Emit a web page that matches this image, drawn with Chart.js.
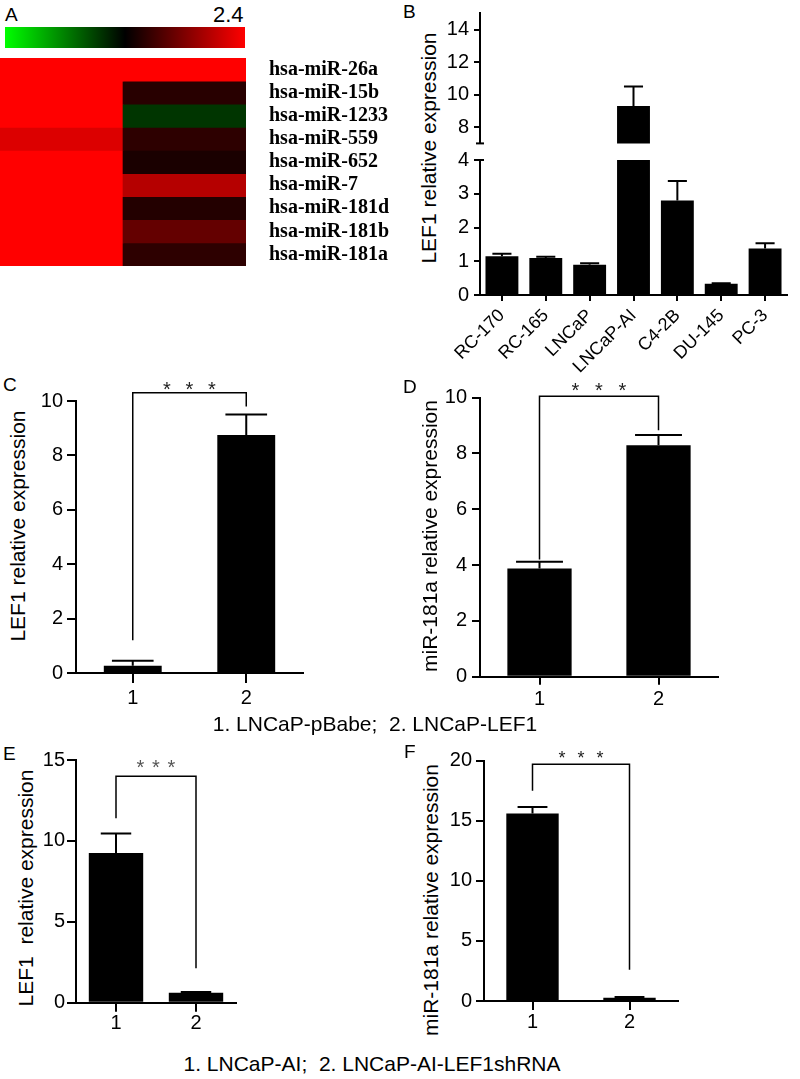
<!DOCTYPE html>
<html><head><meta charset="utf-8">
<script src="https://cdn.jsdelivr.net/npm/chart.js@4.4.0/dist/chart.umd.min.js"></script>
<style>
body{margin:0;background:#fff;width:800px;height:1079px;position:relative;overflow:hidden;font-family:"Liberation Sans",Arial,sans-serif;color:#000}
canvas{position:absolute}
.t{position:absolute;white-space:pre;line-height:1;color:#000}
.rot{transform:translate(-50%,-50%) rotate(-90deg);font-size:21px}
.cap{transform:translateX(-50%);font-size:21px}
.lt{font-size:19px}
#cbar{position:absolute;left:5px;top:27px;width:240px;height:21px;background:linear-gradient(to right,#00ff00 0%,#000 50%,#ff0000 100%)}
</style></head><body>
<div class="t lt" style="left:5px;top:4.7px">A</div>
<div class="t" style="left:213px;top:4px;font-size:22px">2.4</div>
<div id="cbar"></div>
<canvas id="heat"></canvas>
<div class="t lt" style="left:403px;top:2.4px">B</div>
<div class="t rot" style="left:428px;top:148px">LEF1 relative expression</div>
<canvas id="bHigh"></canvas>
<canvas id="bLow"></canvas>
<div class="t lt" style="left:3px;top:374.7px">C</div>
<div class="t rot" style="left:17px;top:526px">LEF1 relative expression</div>
<canvas id="cChart"></canvas>
<div class="t lt" style="left:403px;top:377.4px">D</div>
<div class="t rot" style="left:429px;top:536px">miR-181a relative expression</div>
<canvas id="dChart"></canvas>
<div class="t cap" style="left:375px;top:712.7px">1. LNCaP-pBabe;  2. LNCaP-LEF1</div>
<div class="t lt" style="left:3px;top:743.7px">E</div>
<div class="t rot" style="left:25px;top:888px">LEF1  relative expression</div>
<canvas id="eChart"></canvas>
<div class="t lt" style="left:404px;top:742.4px">F</div>
<div class="t rot" style="left:430px;top:900px">miR-181a relative expression</div>
<canvas id="fChart"></canvas>
<div class="t cap" style="left:372px;top:1052.7px">1. LNCaP-AI;  2. LNCaP-AI-LEF1shRNA</div>
<script>
const FONT = "'Liberation Sans', Arial, sans-serif";

// ---- Panel A: heatmap ----
const heatRows = ['hsa-miR-26a','hsa-miR-15b','hsa-miR-1233','hsa-miR-559','hsa-miR-652','hsa-miR-7','hsa-miR-181d','hsa-miR-181b','hsa-miR-181a'];
const heatSamples = ['S1','S2'];
const heatCol1 = [2.4,2.4,2.4,2.07,2.4,2.4,2.4,2.4,2.4];
const heatCol2 = [2.4,0.38,-0.5,0.42,0.24,1.7,0.33,0.94,0.42];
const heatMax = 2.4;

// ---- Panel B ----
const bLabels = ['RC-170','RC-165','LNCaP','LNCaP-AI','C4-2B','DU-145','PC-3'];
const bValues = [1.15,1.1,0.9,9.3,2.8,0.33,1.38];
const bErrors = [0.07,0.03,0.04,1.2,0.58,0.02,0.15];
const bTicksLow = [0,1,2,3,4];
const bTicksHigh = [8,10,12,14];

// ---- Panel C ----
const cLabels = ['1','2'];
const cValues = [0.27,8.75];
const cErrors = [0.18,0.75];
const cTicks = [0,2,4,6,8,10];
const cBracket = [1.2,10.3,9.8];

// ---- Panel D ----
const dLabels = ['1','2'];
const dValues = [3.88,8.3];
const dErrors = [0.24,0.36];
const dTicks = [0,2,4,6,8,10];
const dBracket = [4.2,10.05,8.83];

// ---- Panel E ----
const eLabels = ['1','2'];
const eValues = [9.25,0.62];
const eErrors = [1.2,0.04];
const eTicks = [0,5,10,15];
const eBracket = [11.4,14.0,2.13];

// ---- Panel F ----
const fLabels = ['1','2'];
const fValues = [15.6,0.28];
const fErrors = [0.55,0.05];
const fTicks = [0,5,10,15,20];
const fBracket = [17.5,19.7,2.6];

const STARS = '*';

Chart.defaults.font.family = FONT;
Chart.defaults.color = '#000';

const errPlugin = {id:'errbars', afterDatasetsDraw(chart, args, o){
  if(!o || !o.errors) return;
  const ctx = chart.ctx, a = chart.chartArea, ys = chart.scales.y;
  const meta = chart.getDatasetMeta(0), vals = chart.data.datasets[0].data;
  ctx.save(); ctx.beginPath(); ctx.rect(a.left, a.top-1, a.right-a.left, a.bottom-a.top+1); ctx.clip();
  ctx.strokeStyle = '#000'; ctx.lineWidth = 2;
  meta.data.forEach((bar,i)=>{
    const y0 = ys.getPixelForValue(vals[i]), y1 = ys.getPixelForValue(vals[i]+o.errors[i]);
    const hw = bar.width*o.cap/2;
    ctx.beginPath(); ctx.moveTo(bar.x,y0); ctx.lineTo(bar.x,y1);
    ctx.moveTo(bar.x-hw,y1); ctx.lineTo(bar.x+hw,y1); ctx.stroke();
  });
  ctx.restore();
}};
const bracketPlugin = {id:'bracket', afterDraw(chart, args, o){
  if(!o || !o.levels) return;
  const ctx = chart.ctx, xs = chart.scales.x, ys = chart.scales.y;
  const xl = xs.getPixelForValue(0), xr = xs.getPixelForValue(1);
  const [lb, top, rb] = o.levels.map(v=>ys.getPixelForValue(v));
  ctx.save(); ctx.strokeStyle = '#000'; ctx.lineWidth = 1.5;
  ctx.beginPath(); ctx.moveTo(xl,lb); ctx.lineTo(xl,top); ctx.lineTo(xr,top); ctx.lineTo(xr,rb); ctx.stroke();
  ctx.fillStyle = o.color || '#000'; ctx.font = (o.size||20)+'px '+FONT;
  ctx.textAlign = 'center'; ctx.textBaseline = 'alphabetic';
  const cx = (xl+xr)/2, cy = top - o.rise + 0.57*(o.size||20);
  for(let k=-1;k<=1;k++) ctx.fillText(STARS, cx + k*o.gap, cy);
  ctx.restore();
}};
const capsPlugin = {id:'axisCaps', afterDraw(chart, args, o){
  if(!o || !o.where) return;
  const ctx = chart.ctx, a = chart.chartArea, y = o.where==='top' ? a.top : a.bottom;
  ctx.save(); ctx.strokeStyle='#000'; ctx.lineWidth=2;
  ctx.beginPath(); ctx.moveTo(a.left-4,y); ctx.lineTo(a.left+4,y); ctx.stroke(); ctx.restore();
}};
Chart.register(errPlugin, bracketPlugin, capsPlugin);

function place(id, c, a){
  const cv = document.getElementById(id);
  cv.width = c[2]-c[0]; cv.height = c[3]-c[1];
  Object.assign(cv.style,{left:c[0]+'px',top:c[1]+'px',width:(c[2]-c[0])+'px',height:(c[3]-c[1])+'px'});
  return {cv, yW:a[0]-c[0], padTop:a[1]-c[1], padRight:c[2]-a[2], xH:c[3]-a[3]};
}

function heatColor(v){
  const t = Math.max(-1, Math.min(1, v/heatMax));
  return t>=0 ? `rgb(${Math.round(255*t)},0,0)` : `rgb(0,${Math.round(-255*t)},0)`;
}

(function(){
  const L = place('heat',[0,58,400,266],[0,58,246,266]);
  new Chart(L.cv,{
    type:'bar',
    data:{labels:heatSamples, datasets:heatRows.map((r,i)=>({label:r, data:heatSamples.map(()=>1),
      backgroundColor:[heatColor(heatCol1[i]), heatColor(heatCol2[i])], borderWidth:0,
      barPercentage:1, categoryPercentage:1}))},
    options:{responsive:false, animation:false, devicePixelRatio:1,
      layout:{padding:{left:0,top:0,right:0,bottom:0}},
      plugins:{legend:{display:false}, tooltip:{enabled:false}},
      scales:{
        x:{display:false, stacked:true},
        y:{display:false, stacked:true, min:0, max:heatRows.length, reverse:true},
        y2:{type:'category', labels:heatRows, position:'right', offset:true,
          grid:{display:false}, border:{display:false},
          ticks:{color:'#000', padding:15, autoSkip:false,
            font:{family:"'Liberation Serif', 'Times New Roman', serif", size:20, weight:'bold'}},
          afterFit:s=>{s.width=154; s.paddingTop=0; s.paddingBottom=0;}}
      }}
  });
})();

function barPanel(id, c, a, d){
  const L = place(id, c, a);
  return new Chart(L.cv,{
    type:'bar',
    data:{labels:d.labels, datasets:[{data:d.values, backgroundColor:'#000', borderWidth:0,
      barPercentage:d.bp, categoryPercentage:1, clip:0}]},
    options:{responsive:false, animation:false, devicePixelRatio:1,
      layout:{padding:{left:0, top:L.padTop, right:L.padRight, bottom:d.xHidden?L.xH:0}},
      plugins:{legend:{display:false}, tooltip:{enabled:false},
        errbars:{errors:d.errors, cap:d.cap}, bracket:d.bracket||{}, axisCaps:d.caps||{}},
      scales:{
        x:{display:!d.xHidden,
          grid:{offset:false, drawOnChartArea:false, tickLength:d.xtl||8, color:'#000', lineWidth:2},
          border:{color:'#000', width:2},
          ticks:{color:'#000', font:{family:FONT, size:d.xfs||20}, padding:d.xpad||0, autoSkip:false,
            maxRotation:d.rot||0, minRotation:d.rot||0},
          afterFit:s=>{s.height=L.xH; s.paddingLeft=0; s.paddingRight=0;}},
        y:{min:d.min, max:d.max,
          afterBuildTicks:s=>{s.ticks=d.ticks.map(v=>({value:v}));},
          grid:{drawOnChartArea:false, tickLength:d.ytl||8, color:'#000', lineWidth:2},
          border:{color:'#000', width:2},
          ticks:{color:'#000', font:{family:FONT, size:20}, padding:d.ypad||4, autoSkip:false},
          afterFit:s=>{s.width=L.yW; s.paddingTop=0; s.paddingBottom=0;}}
      }}
  });
}

barPanel('bHigh',[400,0,800,150],[480,13.3,787,146.7],{labels:bLabels, values:bValues, errors:bErrors,
  cap:0.58, bp:0.75, min:7, max:15, ticks:bTicksHigh, xHidden:true, ytl:6, ypad:5, caps:{where:'bottom'}});
barPanel('bLow',[400,145,800,385],[480,160,787,295],{labels:bLabels, values:bValues, errors:bErrors,
  cap:0.58, bp:0.75, min:0, max:4, ticks:bTicksLow, xtl:6, xfs:18, xpad:4, rot:45, ytl:6, ypad:5, caps:{where:'top'}});
barPanel('cChart',[0,370,320,715],[76,401,303,673],{labels:cLabels, values:cValues, errors:cErrors,
  cap:0.72, bp:0.51, min:0, max:10, ticks:cTicks, xtl:10, xpad:3, ytl:9, ypad:4,
  bracket:{levels:cBracket, rise:8.7, gap:22.5, size:20, color:'#222'}});
barPanel('dChart',[400,370,740,715],[480,397.7,718,676.7],{labels:dLabels, values:dValues, errors:dErrors,
  cap:0.73, bp:0.54, min:0, max:10, ticks:dTicks, xtl:8, xpad:3, ytl:8, ypad:5,
  bracket:{levels:dBracket, rise:11, gap:23.5, size:20, color:'#222'}});
barPanel('eChart',[0,740,260,1045],[76,760,236,1002.7],{labels:eLabels, values:eValues, errors:eErrors,
  cap:0.56, bp:0.68, min:0, max:15, ticks:eTicks, xtl:9, xpad:0, ytl:9, ypad:2,
  bracket:{levels:eBracket, rise:14, gap:15.5, size:20, color:'#555'}});
barPanel('fChart',[400,740,700,1045],[484,760.7,678,1001],{labels:fLabels, values:fValues, errors:fErrors,
  cap:0.57, bp:0.54, min:0, max:20, ticks:fTicks, xtl:9, xpad:0, ytl:8, ypad:4,
  bracket:{levels:fBracket, rise:11, gap:19, size:18, color:'#222'}});
</script>
</body></html>
